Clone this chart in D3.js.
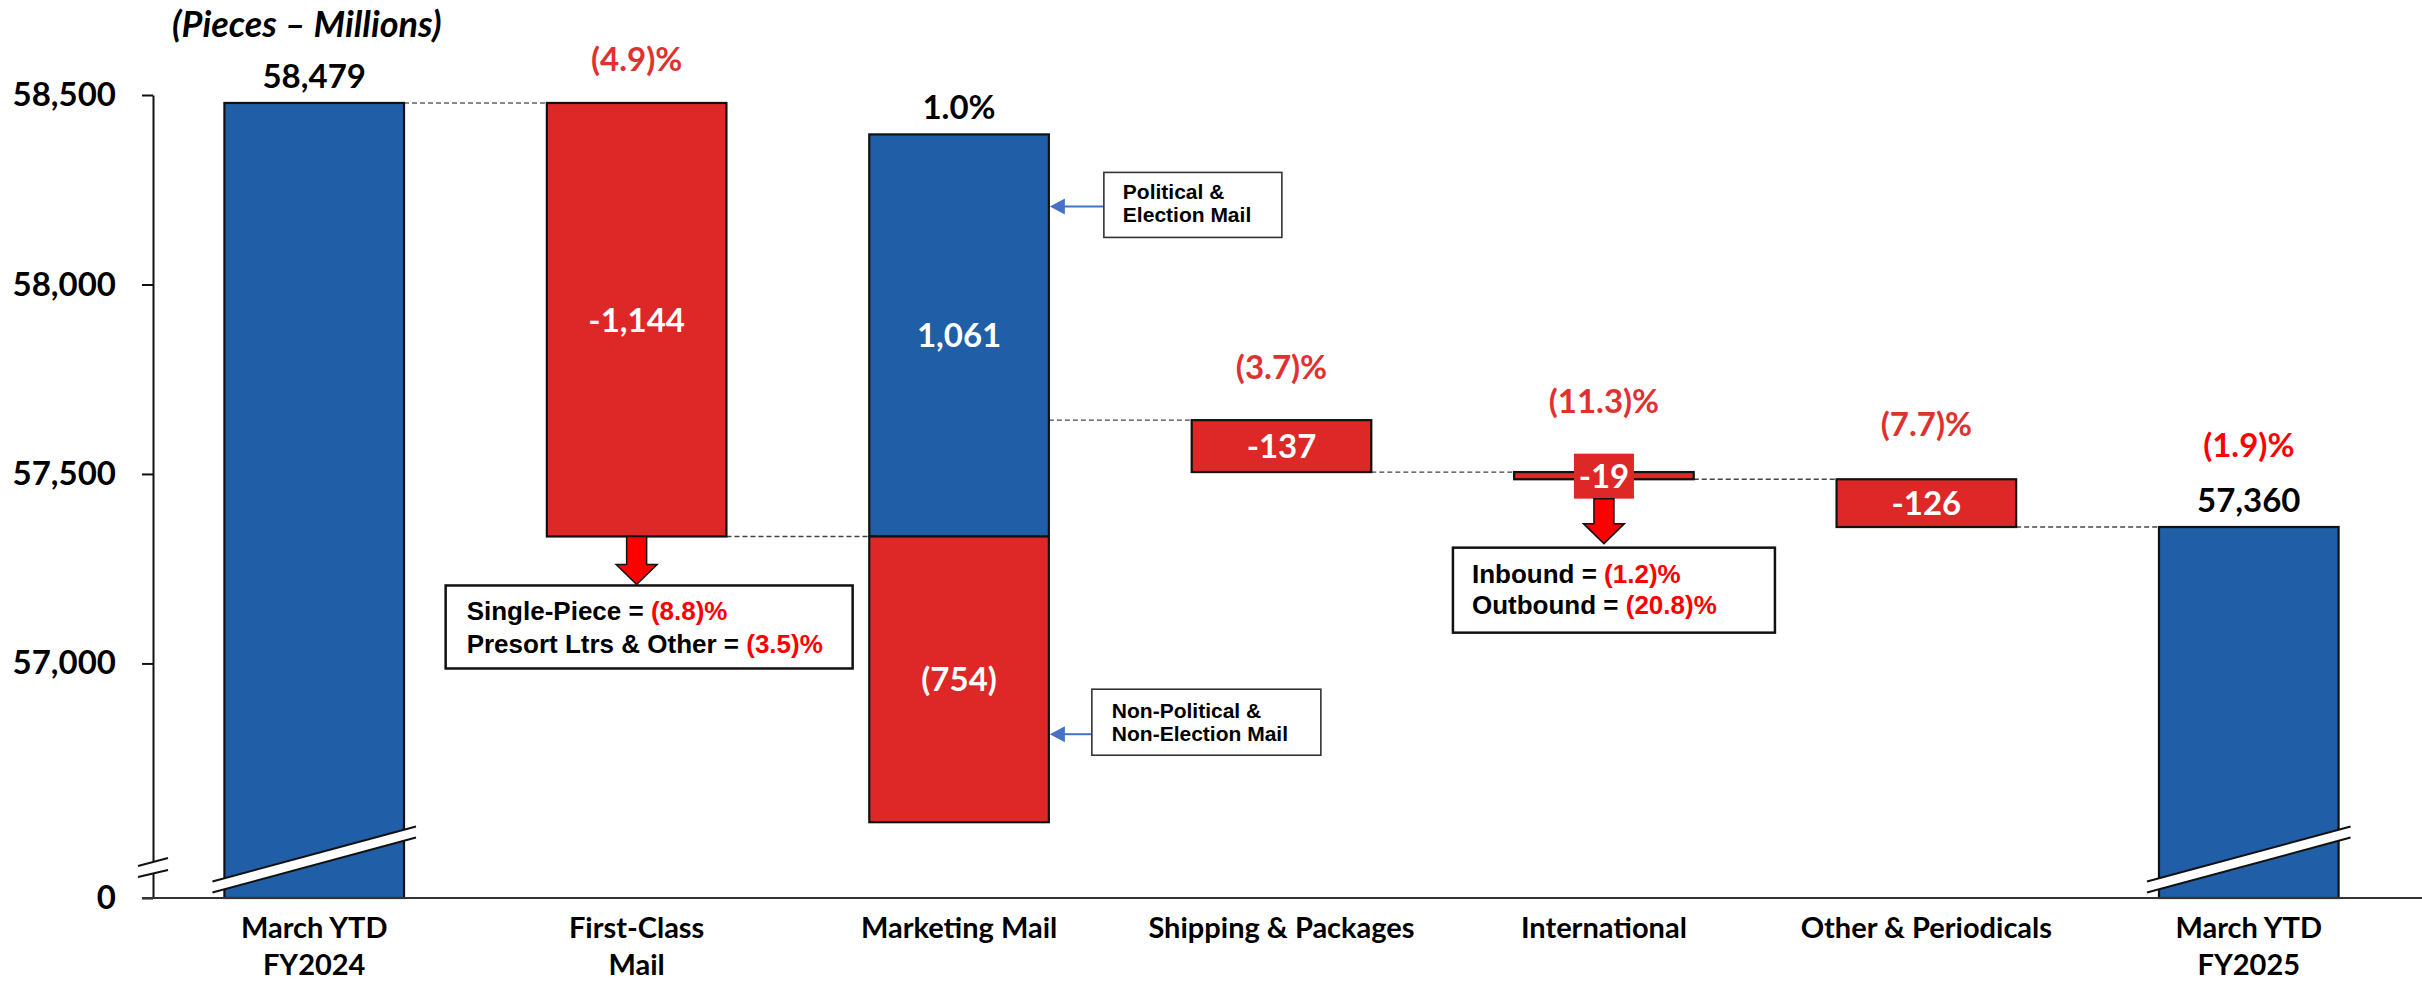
<!DOCTYPE html>
<html>
<head>
<meta charset="utf-8">
<script src="https://cdn.jsdelivr.net/npm/d3@7"></script>
<style>
  html, body { margin: 0; padding: 0; background: #fff; }
  svg { display: block; }
</style>
</head>
<body>
<div id="chart"></div>
<script>
// Volume bridge, pieces in millions
const categories = [
    ["March YTD", "FY2024"],
    ["First-Class", "Mail"],
    ["Marketing Mail"],
    ["Shipping & Packages"],
    ["International"],
    ["Other & Periodicals"],
    ["March YTD", "FY2025"]
];
const startTotal = 58479;
const endTotal = 57360;
const changes = [null, -1144, null, -137, -19, -126, null];
const marketingUp = 1061;     // political & election mail
const marketingDown = -754;   // non-political & non-election mail
const valueLabels = ["58,479", "-1,144", "", "-137", "-19", "-126", "57,360"];
const pctLabels = ["", "(4.9)%", "1.0%", "(3.7)%", "(11.3)%", "(7.7)%", "(1.9)%"];
const yTicks = [57000, 57500, 58000, 58500];
const axisFloor = 56381;      // value sitting on the broken baseline, labelled 0

const firstClassNotes = [["Single-Piece = ", "(8.8)%"], ["Presort Ltrs & Other = ", "(3.5)%"]];
const intlNotes = [["Inbound = ", "(1.2)%"], ["Outbound = ", "(20.8)%"]];
const politicalNote = ["Political &", "Election Mail"];
const nonPoliticalNote = ["Non-Political &", "Non-Election Mail"];

// how far each % label sits above its bar (px), and its colour
const pctLift = [0, 32, 15, 41, 59, 43, 70];
const pctColor = ["", "#E03131", "#000", "#E03131", "#E03131", "#E03131", "#FF0000"];

const BLUE = "#205FA7", RED = "#DE2727";
const CAL = "Lato, 'Open Sans', sans-serif";
const ARIAL = "'Liberation Sans', Arial, sans-serif";

const W = 2422, H = 982;
const svg = d3.select("#chart").append("svg").attr("width", W).attr("height", H);

const x = d3.scaleBand().domain(d3.range(categories.length))
            .range([153, 2410]).paddingInner(0.443).paddingOuter(0.2215);
const y = d3.scaleLinear().domain([axisFloor, 58500]).range([898, 95]);
const bw = x.bandwidth();
const cx = i => x(i) + bw / 2;

// build the waterfall pieces
const bars = [];
const levels = [];
let level = startTotal;
categories.forEach((c, i) => {
    if (i === 0) {
        bars.push({ i, lo: axisFloor, hi: startTotal, fill: BLUE, total: true });
        level = startTotal;
    } else if (i === categories.length - 1) {
        bars.push({ i, lo: axisFloor, hi: endTotal, fill: BLUE, total: true });
        level = endTotal;
    } else if (changes[i] === null) {
        bars.push({ i, lo: level, hi: level + marketingUp, fill: BLUE, text: d3.format(",")(marketingUp) });
        bars.push({ i, lo: level + marketingDown, hi: level, fill: RED, text: "(" + d3.format(",")(-marketingDown) + ")" });
        level += marketingUp + marketingDown;
    } else {
        bars.push({ i, lo: level + changes[i], hi: level, fill: RED, text: valueLabels[i] });
        level += changes[i];
    }
    levels.push(level);
});
const topOf = i => d3.max(bars.filter(b => b.i === i), b => b.hi);
const bottomOf = i => d3.min(bars.filter(b => b.i === i), b => b.lo);

// connectors
svg.append("g").selectAll("line")
   .data(levels.slice(0, -1))
   .enter().append("line")
   .attr("x1", (d, i) => x(i) + bw)
   .attr("x2", (d, i) => x(i + 1))
   .attr("y1", d => y(d)).attr("y2", d => y(d))
   .attr("stroke", (d, i) => i === 0 ? "#888" : "#444")
   .attr("stroke-width", (d, i) => i === 0 ? 2 : 1.3)
   .attr("stroke-dasharray", "5,3");

// bars
svg.append("g").selectAll("rect")
   .data(bars)
   .enter().append("rect")
   .attr("x", d => x(d.i))
   .attr("width", bw)
   .attr("y", d => y(d.hi))
   .attr("height", d => y(d.lo) - y(d.hi))
   .attr("fill", d => d.fill)
   .attr("stroke", "#111")
   .attr("stroke-width", 2.2);

// break bands on the total bars
bars.filter(b => b.total).forEach(b => {
    const x0 = x(b.i) - 12, x1 = x(b.i) + bw + 12;
    const yl = y(axisFloor) - 11, yr = yl - 0.27 * (x1 - x0), t = 11;
    svg.append("path")
       .attr("d", `M${x0},${yl - t / 2}L${x1},${yr - t / 2}L${x1},${yr + t / 2}L${x0},${yl + t / 2}Z`)
       .attr("fill", "#fff");
    [-t / 2, t / 2].forEach(o => {
        svg.append("line")
           .attr("x1", x0).attr("y1", yl + o).attr("x2", x1).attr("y2", yr + o)
           .attr("stroke", "#111").attr("stroke-width", 2);
    });
});

// y axis
const yAxis = d3.axisLeft(y)
    .tickValues([axisFloor].concat(yTicks))
    .tickFormat(d => d === axisFloor ? "0" : d3.format(",")(d))
    .tickSize(11).tickSizeOuter(0).tickPadding(26);
const gy = svg.append("g").attr("transform", "translate(153,0)").call(yAxis);
gy.select(".domain").attr("stroke", "#111").attr("stroke-width", 2);
gy.selectAll(".tick line").attr("stroke", "#111").attr("stroke-width", 2);
gy.selectAll(".tick text")
  .attr("font-family", CAL).attr("font-weight", 700).attr("font-size", 33).attr("fill", "#000");

// baseline across the chart
svg.append("line")
   .attr("x1", 142).attr("x2", W).attr("y1", y(axisFloor)).attr("y2", y(axisFloor))
   .attr("stroke", "#333").attr("stroke-width", 2.2);

// axis break marks
const by = y(axisFloor) - 37;
svg.append("path")
   .attr("d", `M138,${by + 5}L168,${by - 3}L168,${by + 9}L138,${by + 16}Z`)
   .attr("fill", "#fff");
[[by + 5, by - 3], [by + 16, by + 9]].forEach(p => {
    svg.append("line").attr("x1", 138).attr("y1", p[0]).attr("x2", 168).attr("y2", p[1])
       .attr("stroke", "#111").attr("stroke-width", 2);
});

// category labels
const cat = svg.append("g").selectAll("text")
   .data(categories)
   .enter().append("text")
   .attr("x", (d, i) => cx(i))
   .attr("y", 938)
   .attr("text-anchor", "middle")
   .attr("font-family", CAL).attr("font-weight", 700).attr("font-size", 29);
cat.selectAll("tspan")
   .data(d => d)
   .enter().append("tspan")
   .attr("x", function() { return this.parentNode.getAttribute("x"); })
   .attr("dy", (d, k) => k === 0 ? 0 : 37)
   .text(d => d);

// title
svg.append("text")
   .attr("x", 172).attr("y", 37)
   .attr("font-family", CAL).attr("font-weight", 700).attr("font-style", "italic")
   .attr("font-size", 36)
   .text("(Pieces \u2013 Millions)");

// "-19" sits on a red tag because the bar is too thin
const intl = 4;
const intlMid = (y(bottomOf(intl)) + y(topOf(intl))) / 2;
svg.append("rect")
   .attr("x", cx(intl) - 30).attr("width", 60)
   .attr("y", intlMid - 22).attr("height", 45)
   .attr("fill", RED);

// value labels
bars.forEach(b => {
    if (b.total) {
        svg.append("text")
           .attr("x", cx(b.i)).attr("y", y(b.hi) - 15)
           .attr("text-anchor", "middle")
           .attr("font-family", CAL).attr("font-weight", 700).attr("font-size", 33)
           .text(valueLabels[b.i]);
    } else {
        svg.append("text")
           .attr("x", cx(b.i)).attr("y", (y(b.lo) + y(b.hi)) / 2)
           .attr("dy", "0.36em")
           .attr("text-anchor", "middle")
           .attr("font-family", CAL).attr("font-weight", 700).attr("font-size", 33)
           .attr("fill", "#fff")
           .text(b.text);
    }
});

// percent change labels
pctLabels.forEach((p, i) => {
    if (!p) return;
    svg.append("text")
       .attr("x", cx(i))
       .attr("y", y(topOf(i)) - pctLift[i])
       .attr("text-anchor", "middle")
       .attr("font-family", CAL).attr("font-weight", 700).attr("font-size", 33)
       .attr("fill", pctColor[i])
       .text(p);
});

// red down arrow
function downArrow(xc, y0, y1) {
    const sh = 10, hw = 20.5, hl = 20;
    svg.append("path")
       .attr("d", `M${xc - sh},${y0}L${xc + sh},${y0}L${xc + sh},${y1 - hl}L${xc + hw},${y1 - hl}` +
                  `L${xc},${y1}L${xc - hw},${y1 - hl}L${xc - sh},${y1 - hl}Z`)
       .attr("fill", "#FF0000").attr("stroke", "#111").attr("stroke-width", 1.5);
}

// callout box with black/red text runs
function noteBox(left, top, w, h, lines, pad, base0, gap, size, strokeW) {
    svg.append("rect")
       .attr("x", left).attr("y", top).attr("width", w).attr("height", h)
       .attr("fill", "#fff").attr("stroke", "#111").attr("stroke-width", strokeW);
    lines.forEach((ln, k) => {
        const t = svg.append("text")
           .attr("x", left + pad).attr("y", top + base0 + k * gap)
           .attr("font-family", ARIAL).attr("font-weight", 700).attr("font-size", size);
        t.append("tspan").attr("fill", "#000").text(ln[0]);
        if (ln[1]) t.append("tspan").attr("fill", "#FF0000").text(ln[1]);
    });
}

// First-Class breakdown
const fcBottom = y(bottomOf(1));
downArrow(cx(1), fcBottom, fcBottom + 48);
noteBox(cx(1) - 191, fcBottom + 49, 407, 83, firstClassNotes, 21, 35, 33, 26, 2.5);

// International breakdown
downArrow(cx(intl), intlMid + 23, intlMid + 68);
noteBox(cx(intl) - 151, intlMid + 72, 322, 85, intlNotes, 19, 35, 31, 26, 2.5);

// Marketing Mail side notes
function sideNote(left, top, w, h, arrowY, lines, pad, base0) {
    const edge = x(2) + bw;
    svg.append("line")
       .attr("x1", left).attr("x2", edge + 14).attr("y1", arrowY).attr("y2", arrowY)
       .attr("stroke", "#4472C4").attr("stroke-width", 2);
    svg.append("path")
       .attr("d", `M${edge + 1},${arrowY}L${edge + 16},${arrowY - 8}L${edge + 16},${arrowY + 8}Z`)
       .attr("fill", "#4472C4");
    svg.append("rect")
       .attr("x", left).attr("y", top).attr("width", w).attr("height", h)
       .attr("fill", "#fff").attr("stroke", "#333").attr("stroke-width", 1.6);
    lines.forEach((ln, k) => {
        svg.append("text")
           .attr("x", left + pad).attr("y", top + base0 + k * 23)
           .attr("font-family", ARIAL).attr("font-weight", 700).attr("font-size", 21)
           .text(ln);
    });
}
sideNote(x(2) + bw + 55, y(topOf(2)) + 38, 178, 65, y(topOf(2)) + 72, politicalNote, 19, 27);
sideNote(x(2) + bw + 43, y(bottomOf(2)) - 133, 229, 66, y(bottomOf(2)) - 88, nonPoliticalNote, 20, 29);
</script>
</body>
</html>
